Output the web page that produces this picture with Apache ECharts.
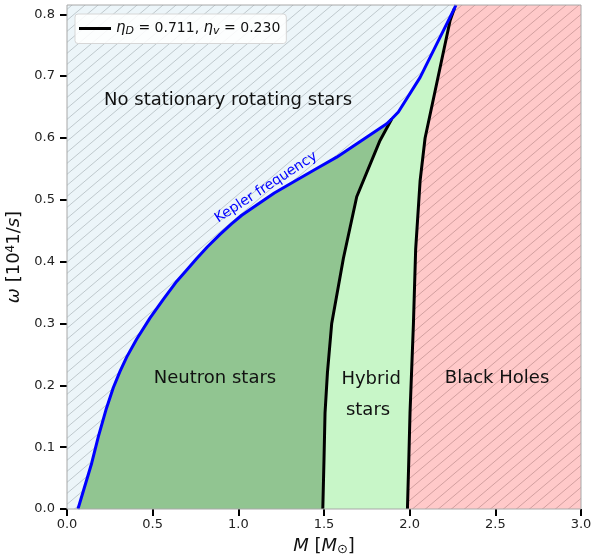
<!DOCTYPE html>
<html>
<head>
<meta charset="utf-8">
<script src="https://cdn.jsdelivr.net/npm/echarts@6/dist/echarts.min.js"></script>
<style>
  html, body { margin: 0; padding: 0; background: #fff; }
  #chart { width: 593px; height: 555px; }
</style>
</head>
<body>
<div id="chart"></div>
<script>
// axis ranges and ticks
const M_MIN = 0, M_MAX = 3.0;
const W_MIN = 0, W_MAX = 0.815;
const xTicks = [0.0, 0.5, 1.0, 1.5, 2.0, 2.5, 3.0];
const yTicks = [0.0, 0.1, 0.2, 0.3, 0.4, 0.5, 0.6, 0.7, 0.8];

// Kepler frequency curve (mass, omega)
const keplerM = [0.064, 0.144, 0.183, 0.227, 0.270, 0.310, 0.349, 0.407, 0.485, 0.562, 0.640, 0.700, 0.757, 0.820, 0.893, 0.960, 1.020, 1.088, 1.210, 1.341, 1.460, 1.574, 1.720, 1.866, 1.896, 1.934, 2.061, 2.262, 2.270];
const keplerW = [0.000, 0.074, 0.117, 0.160, 0.196, 0.223, 0.246, 0.275, 0.309, 0.339, 0.368, 0.387, 0.405, 0.424, 0.444, 0.461, 0.475, 0.488, 0.511, 0.532, 0.551, 0.569, 0.596, 0.623, 0.631, 0.642, 0.698, 0.810, 0.815];

// neutron star / hybrid star boundary
const nsEdgeM = [1.493, 1.500, 1.506, 1.520, 1.545, 1.613, 1.691, 1.827, 1.896];
const nsEdgeW = [0.000, 0.080, 0.155, 0.220, 0.300, 0.405, 0.505, 0.596, 0.631];

// hybrid star / black hole boundary
const bhEdgeM = [1.987, 1.995, 2.002, 2.022, 2.035, 2.061, 2.090, 2.236, 2.262];
const bhEdgeW = [0.000, 0.080, 0.155, 0.300, 0.420, 0.531, 0.600, 0.790, 0.810];

const edgeName = 'eta';

// region annotations: [mass, omega, text, angle in degrees]
const regionNotes = [
  [0.94, 0.661, 'No stationary rotating stars', 0],
  [0.864, 0.212, 'Neutron stars', 0],
  [1.775, 0.210, 'Hybrid', 0],
  [1.757, 0.160, 'stars', 0],
  [2.51, 0.212, 'Black Holes', 0],
  [1.162, 0.520, 'Kepler frequency', 33]
];

const FONT = '"DejaVu Sans", sans-serif';

function pts(ms, ws) {
  return ms.map(function (m, i) { return [m, ws[i]]; });
}
const kepler = pts(keplerM, keplerW);
const nsEdge = pts(nsEdgeM, nsEdgeW);
const bhEdge = pts(bhEdgeM, bhEdgeW);

const jNS = keplerM.indexOf(nsEdgeM[nsEdgeM.length - 1]);
const jBH = keplerM.indexOf(bhEdgeM[bhEdgeM.length - 1]);

const skyPoly = [[M_MIN, W_MIN], [M_MAX, W_MIN], [M_MAX, W_MAX], [M_MIN, W_MAX]];
const nsPoly = kepler.slice(0, jNS + 1).concat(nsEdge.slice().reverse());
const hybridPoly = nsEdge.concat(kepler.slice(jNS + 1, jBH + 1), bhEdge.slice().reverse());
const bhPoly = bhEdge.concat([kepler[kepler.length - 1], [M_MAX, W_MAX], [M_MAX, W_MIN]]);

// tile with one diagonal '/' stroke, repeats seamlessly
function hatch(bg, line) {
  let w = 13, h = 11;
  let c = document.createElement('canvas');
  c.width = w; c.height = h;
  let g = c.getContext('2d');
  g.fillStyle = bg;
  g.fillRect(0, 0, w, h);
  g.strokeStyle = line;
  g.lineWidth = 1;
  g.beginPath();
  g.moveTo(-w, 2 * h); g.lineTo(2 * w, -h);
  g.moveTo(-w, h); g.lineTo(w, -h);
  g.moveTo(0, 2 * h); g.lineTo(2 * w, 0);
  g.stroke();
  return { image: c, repeat: 'repeat' };
}

function polySeries(poly, fill) {
  return {
    type: 'custom',
    silent: true,
    clip: true,
    data: [[poly[0][0], poly[0][1]]],
    renderItem: function (params, api) {
      return {
        type: 'polygon',
        shape: { points: poly.map(function (p) { return api.coord(p); }) },
        style: { fill: fill, stroke: null }
      };
    }
  };
}

function edgeSeries(name, data, color) {
  return {
    name: name,
    type: 'line',
    data: data,
    symbol: 'none',
    silent: true,
    clip: true,
    z: 5,
    lineStyle: { color: color, width: 3 },
    itemStyle: { color: color }
  };
}

let drawCharts = echarts.init(document.getElementById('chart'));
let option = {
  animation: false,
  grid: { left: 67, right: 12, top: 5, bottom: 46, outerBoundsMode: 'none', containLabel: false },
  legend: {
    data: [edgeName],
    icon: 'rect',
    left: 75, top: 14,
    itemWidth: 32, itemHeight: 3, itemGap: 10,
    padding: [7, 6, 7, 4],
    backgroundColor: 'rgba(255,255,255,0.85)',
    borderColor: '#d6d6d6', borderWidth: 1, borderRadius: 3,
    formatter: function () {
      return '{i|η}{s|D}{n| = 0.711, }{i|η}{s|v}{n| = 0.230}';
    },
    textStyle: {
      fontFamily: FONT, fontSize: 14, color: '#111',
      rich: {
        i: { fontFamily: FONT, fontSize: 15, fontStyle: 'italic', color: '#111', lineHeight: 16 },
        s: { fontFamily: FONT, fontSize: 11, fontStyle: 'italic', color: '#111', lineHeight: 9, verticalAlign: 'bottom' },
        n: { fontFamily: FONT, fontSize: 14, color: '#111', lineHeight: 16 }
      }
    }
  },
  xAxis: {
    type: 'value', min: M_MIN, max: M_MAX, interval: 0.5,
    name: '{i|M} [{i|M}{s|⊙}]',
    nameLocation: 'middle', nameGap: 27,
    nameTextStyle: {
      fontFamily: FONT, fontSize: 18, color: '#111',
      rich: {
        i: { fontFamily: FONT, fontSize: 18, fontStyle: 'italic', color: '#111', lineHeight: 20 },
        s: { fontFamily: FONT, fontSize: 13, color: '#111', lineHeight: 12, verticalAlign: 'bottom' }
      }
    },
    axisLine: { show: false },
    axisTick: { show: true, length: 7, customValues: xTicks, lineStyle: { color: '#000', width: 2 } },
    axisLabel: {
      margin: 9, fontFamily: FONT, fontSize: 13, color: '#222',
      customValues: xTicks,
      formatter: function (v) { return v.toFixed(1); }
    },
    splitLine: { show: false }
  },
  yAxis: {
    type: 'value', min: W_MIN, max: W_MAX, interval: 0.1,
    name: '{i|ω} [10{p|4}1/{i|s}]',
    nameLocation: 'middle', nameGap: 30, nameRotate: 90,
    nameTextStyle: {
      fontFamily: FONT, fontSize: 18, color: '#111',
      rich: {
        i: { fontFamily: FONT, fontSize: 18, fontStyle: 'italic', color: '#111', lineHeight: 20 },
        p: { fontFamily: FONT, fontSize: 12, color: '#111', lineHeight: 11, verticalAlign: 'top' }
      }
    },
    axisLine: { show: false },
    axisTick: { show: true, length: 7, customValues: yTicks, lineStyle: { color: '#000', width: 2 } },
    axisLabel: {
      margin: 12, fontFamily: FONT, fontSize: 13, color: '#222',
      customValues: yTicks,
      formatter: function (v) { return v.toFixed(1); }
    },
    splitLine: { show: false }
  },
  series: [
    polySeries(skyPoly, hatch('#ecf5f9', 'rgba(175,185,190,0.75)')),
    polySeries(bhPoly, hatch('#ffc9c9', 'rgba(195,145,145,0.75)')),
    polySeries(nsPoly, '#91c591'),
    polySeries(hybridPoly, '#c8f6c8'),
    edgeSeries(edgeName, nsEdge, '#000000'),
    edgeSeries(edgeName, bhEdge, '#000000'),
    edgeSeries('Kepler frequency', kepler, '#0000ff'),
    {
      type: 'custom',
      silent: true,
      clip: false,
      z: 8,
      data: regionNotes.map(function (r) { return [r[0], r[1]]; }),
      renderItem: function (params, api) {
        let r = regionNotes[params.dataIndex];
        let p = api.coord([r[0], r[1]]);
        let isKepler = r[3] !== 0;
        return {
          type: 'text',
          x: p[0], y: p[1],
          rotation: r[3] * Math.PI / 180,
          style: {
            text: r[2],
            fill: isKepler ? '#0000ff' : '#111111',
            font: (isKepler ? '14px ' : '18px ') + FONT,
            align: 'center',
            verticalAlign: 'middle'
          }
        };
      }
    },
    {
      type: 'custom',
      silent: true,
      clip: false,
      z: 9,
      data: [[M_MIN, W_MIN]],
      renderItem: function (params, api) {
        let a = api.coord([M_MIN, W_MAX]);
        let b = api.coord([M_MAX, W_MIN]);
        return {
          type: 'rect',
          shape: { x: a[0], y: a[1], width: b[0] - a[0], height: b[1] - a[1] },
          style: { fill: null, stroke: '#a8a8a8', lineWidth: 1 }
        };
      }
    }
  ]
};
drawCharts.setOption(option);
</script>
</body>
</html>
